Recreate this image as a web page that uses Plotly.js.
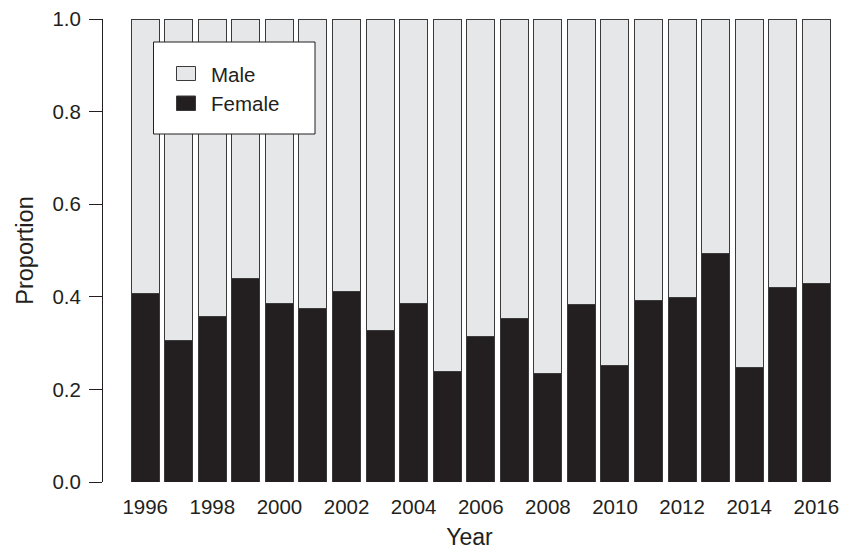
<!DOCTYPE html>
<html>
<head>
<meta charset="utf-8">
<script src="https://cdn.plot.ly/plotly-3.0.1.min.js"></script>
<style>html,body{margin:0;padding:0;background:#fff;}#chart{width:841px;height:550px;}</style>
</head>
<body>
<div id="chart"></div>
<script>
const years = [1996,1997,1998,1999,2000,2001,2002,2003,2004,2005,2006,2007,2008,2009,2010,2011,2012,2013,2014,2015,2016];
const female = [0.407,0.305,0.358,0.440,0.386,0.374,0.412,0.327,0.385,0.238,0.315,0.353,0.235,0.384,0.252,0.391,0.398,0.494,0.247,0.420,0.429];
const male = [0.593,0.695,0.642,0.560,0.614,0.626,0.588,0.673,0.615,0.762,0.685,0.647,0.765,0.616,0.748,0.609,0.602,0.506,0.753,0.580,0.571];
const xTicks = [1996,1998,2000,2002,2004,2006,2008,2010,2012,2014,2016];
const yTicks = [0,0.2,0.4,0.6,0.8,1.0];
const seriesNames = ['Male','Female'];

const FONT = '"Liberation Sans", Arial, Helvetica, sans-serif';
const INK = '#231f20';
const MALE_C = '#e6e7e8';
const FEMALE_C = '#231f20';
const edge = {color:'#3a3a3a', width:1};

// plot area in pixels (for converting legend box placement to paper coords)
const W = 841, H = 550;
const M = {l:103, r:5, t:19, b:68};
const pw = W - M.l - M.r, ph = H - M.t - M.b;
const px = x => (x - M.l) / pw;
const py = y => (H - M.b - y) / ph;

const traces = [
  {type:'bar', name:'Female', x:years, y:female, width:0.835, showlegend:false,
   marker:{color:FEMALE_C, line:edge}},
  {type:'bar', name:'Male', x:years, y:male, width:0.835, showlegend:false,
   marker:{color:MALE_C, line:edge}}
];

// legend drawn as a box with swatches and real-text labels
const legendShapes = [
  {type:'rect', xref:'paper', yref:'paper', x0:px(153.5), x1:px(315), y0:py(134), y1:py(42),
   fillcolor:'#ffffff', line:{color:INK, width:1}, layer:'above'},
  {type:'rect', xref:'paper', yref:'paper', x0:px(176.5), x1:px(195.5), y0:py(80.5), y1:py(66.5),
   fillcolor:MALE_C, line:{color:'#3a3a3a', width:1}, layer:'above'},
  {type:'rect', xref:'paper', yref:'paper', x0:px(176.5), x1:px(195.5), y0:py(110.5), y1:py(96),
   fillcolor:FEMALE_C, line:{color:'#3a3a3a', width:1}, layer:'above'}
];
const legendText = [
  {xref:'paper', yref:'paper', x:px(209), y:py(74), xanchor:'left', yanchor:'middle',
   text:seriesNames[0], showarrow:false, font:{family:FONT, size:20.5, color:INK}},
  {xref:'paper', yref:'paper', x:px(209), y:py(104), xanchor:'left', yanchor:'middle',
   text:seriesNames[1], showarrow:false, font:{family:FONT, size:20.5, color:INK}}
];

const layout = {
  width:W, height:H,
  margin:{l:M.l, r:M.r, t:M.t, b:M.b, pad:0},
  paper_bgcolor:'#fff', plot_bgcolor:'#fff',
  barmode:'stack', bargap:0,
  font:{family:FONT, size:20.5, color:INK},
  showlegend:false,
  xaxis:{
    range:[1994.742, 2016.587], tickvals:xTicks, ticktext:xTicks.map(String),
    showline:false, showgrid:false, zeroline:false, ticks:'',
    ticklabelstandoff:10,
    tickfont:{family:FONT, size:20.5, color:INK},
    title:{text:'Year', font:{family:FONT, size:23, color:INK}, standoff:18}
  },
  yaxis:{
    range:[0,1], tickvals:yTicks, ticktext:yTicks.map(v=>v.toFixed(1)),
    showline:true, linecolor:INK, linewidth:1,
    ticks:'outside', ticklen:13, tickwidth:1, tickcolor:INK,
    ticklabelstandoff:4,
    showgrid:false, zeroline:false,
    tickfont:{family:FONT, size:20.5, color:INK},
    title:{text:'Proportion', font:{family:FONT, size:23.5, color:INK}, standoff:12}
  },
  shapes:legendShapes,
  annotations:legendText
};

Plotly.newPlot('chart', traces, layout, {displayModeBar:false, staticPlot:true});
</script>
</body>
</html>
